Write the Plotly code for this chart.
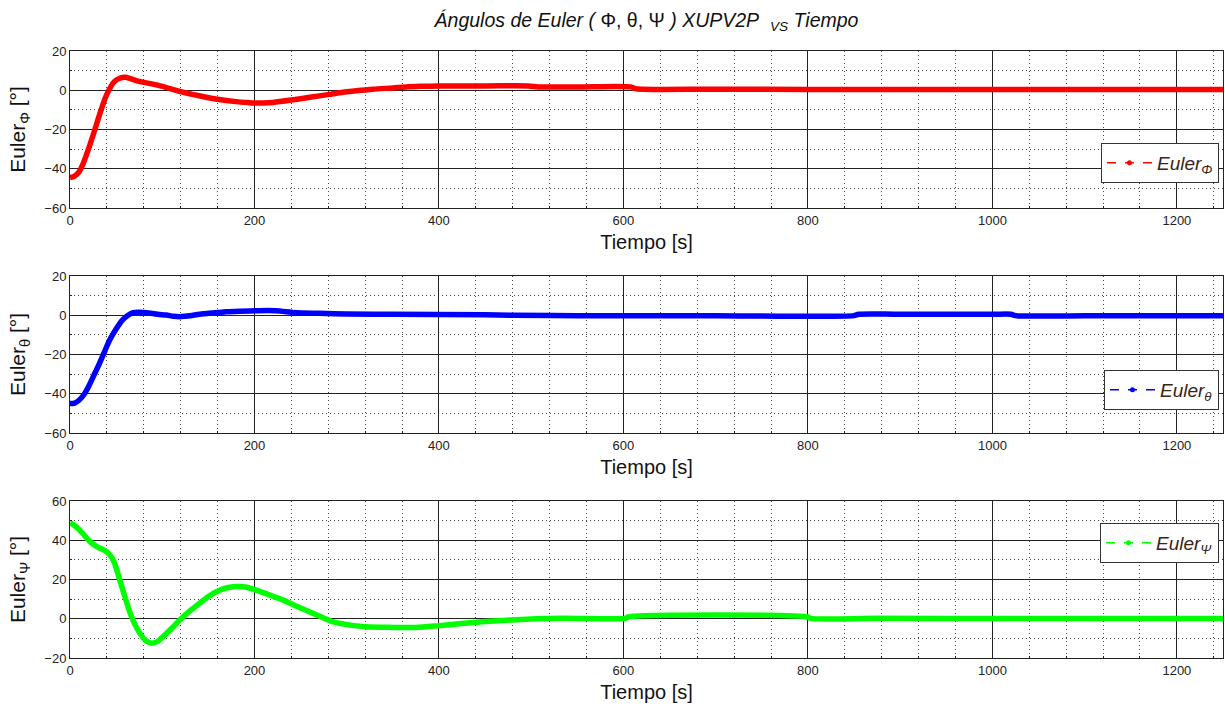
import plotly.graph_objects as go

# ---------------- data ----------------
t_phi = [0, 5, 10, 15, 20, 27, 33, 40, 48, 55, 60, 65, 75, 86, 100, 120, 140, 160, 180, 193,
         200, 210, 220, 240, 260, 281, 300, 328, 350, 364, 380, 400, 450, 497, 508, 550, 608,
         613, 620, 700, 800, 900, 1000, 1100, 1200, 1250]
phi = [-44.5, -43.8, -41.5, -36.5, -30, -20, -11, -2, 4.4, 6.3, 6.6, 6, 4.5, 3.5, 2, -0.7, -2.8,
       -4.6, -5.8, -6.3, -6.5, -6.5, -6.2, -5, -3.6, -2.1, -0.8, 0.5, 1.2, 1.7, 2, 2.2, 2.2,
       2.2, 1.7, 1.7, 1.7, 0.8, 0.5, 0.5, 0.4, 0.4, 0.4, 0.4, 0.4, 0.4]

t_theta = [0, 5, 10, 15, 20, 26, 32, 38, 43, 50, 57, 63, 68.5, 75, 83, 95, 104.5, 112, 120.7,
           130, 140.5, 155, 169, 185, 201.8, 223, 245, 270, 300, 350, 450, 480, 550, 700, 850,
           855, 900, 1000, 1020, 1025, 1100, 1250]
theta = [-45, -44.8, -43.2, -40.5, -36.4, -30.5, -24.5, -18, -12.6, -7, -2.4, 0, 1.3, 1.5, 1.3,
         0.5, 0.1, -0.5, -0.7, -0.3, 0.5, 1.2, 1.8, 2.1, 2.3, 2.3, 1.3, 1, 0.7, 0.5, 0.3, 0,
         -0.2, -0.2, -0.2, 0.5, 0.5, 0.5, 0.5, -0.2, -0.2, -0.2]

t_psi = [0, 5, 10, 21.6, 30, 39.6, 46.8, 54, 59.5, 66.7, 75.7, 82, 88.3, 95, 100.9, 110, 118.9,
         130, 140.5, 150, 158.6, 170, 180.2, 190, 201.8, 215, 230.6, 245, 259.5, 272, 284.7,
         300, 320.7, 350, 374.8, 400, 440, 479, 533, 602, 605, 800, 803, 876, 1000, 1250]
psi = [48.9, 47.5, 45.5, 39.3, 36.5, 34.2, 29.9, 19.7, 11.2, 1, -7.4, -11, -12.5, -11.5, -9.1,
       -5, -0.6, 4, 7.9, 11.3, 13.8, 15.8, 16.4, 16.2, 14.6, 12.3, 9.6, 6.5, 3.6, 1, -1.5, -3,
       -4.1, -4.4, -4.4, -3.5, -1.8, -0.6, 0.2, 0.2, 0.9, 0.9, 0.2, 0.2, 0.1, 0.1]

x_tick_step = 200
y_ranges = [[-60, 20], [-60, 20], [-20, 60]]
colors = ["#ff0000", "#0000ff", "#00ff00"]
sym = ["Φ", "θ", "Ψ"]
series = [(t_phi, phi), (t_theta, theta), (t_psi, psi)]

FONT = "Liberation Sans, Arial, sans-serif"
W, H = 1225, 712
ml, mr, mt, mb = 70, 2, 51, 54
ph = H - mt - mb
# pixel rows of each plot (top, bottom)
rows_px = [(51, 208), (276, 433), (501, 658)]
leg_center_px = [163, 390, 543]


def py2paper(p):
    return (H - mb - p) / ph


fig = go.Figure()
for i, ((tx, ty), col, s) in enumerate(zip(series, colors, sym)):
    xa = "x" if i == 0 else f"x{i+1}"
    ya = "y" if i == 0 else f"y{i+1}"
    lg = "legend" if i == 0 else f"legend{i+1}"
    fig.add_trace(go.Scatter(x=tx, y=ty, mode="lines", line=dict(color=col, width=5.5, shape="spline", smoothing=0.8),
                             xaxis=xa, yaxis=ya, showlegend=False, hoverinfo="x+y"))
    fig.add_trace(go.Scatter(x=[None], y=[None], mode="lines+markers",
                             line=dict(color=col, width=1.5, dash="dash"),
                             marker=dict(color=col, size=5, symbol="circle"),
                             name=f"<i>Euler<sub>{s}</sub></i>",
                             xaxis=xa, yaxis=ya, showlegend=True, legend=lg))

layout = dict(
    width=W, height=H,
    margin=dict(l=ml, r=mr, t=mt, b=mb),
    paper_bgcolor="white", plot_bgcolor="white",
    font=dict(family=FONT, color="#222222", size=12),
    title=dict(text="<i>Ángulos de Euler (</i> Φ, θ, Ψ <i>) XUPV2P</i>  <sub><i>VS</i></sub> <i>Tiempo</i>",
               x=0.5, xref="paper", y=1 - 20 / H, yref="container", yanchor="middle",
               font=dict(family=FONT, size=19.5, color="#111111")),
)

for i in range(3):
    top, bot = rows_px[i]
    sfx = "" if i == 0 else str(i + 1)
    layout["xaxis" + sfx] = dict(
        domain=[0, 1], anchor="y" + sfx, range=[0, 1250],
        tickmode="linear", tick0=0, dtick=x_tick_step,
        showline=True, linecolor="#222222", linewidth=1, mirror=True,
        showgrid=True, gridcolor="#222222", gridwidth=1,
        ticks="inside", ticklen=4, tickcolor="#222222",
        minor=dict(tickmode="linear", tick0=0, dtick=40, showgrid=True, gridcolor="#444444",
                   griddash="1px,3px", gridwidth=1,
                   ticks="inside", ticklen=2, tickcolor="#222222"),
        zeroline=False, automargin=False,
        tickfont=dict(family=FONT, size=13, color="#222222"),
        title=dict(text="Tiempo [s]", standoff=8, font=dict(family=FONT, size=20, color="#111111")),
    )
    layout["yaxis" + sfx] = dict(
        domain=[py2paper(bot), py2paper(top)], anchor="x" + sfx, range=y_ranges[i],
        tickmode="linear", dtick=20, tick0=0,
        showline=True, linecolor="#222222", linewidth=1, mirror=True,
        showgrid=True, gridcolor="#222222", gridwidth=1,
        ticks="inside", ticklen=4, tickcolor="#222222",
        minor=dict(tickmode="linear", dtick=10, tick0=0, showgrid=True, gridcolor="#444444",
                   griddash="1px,3px", gridwidth=1,
                   ticks="inside", ticklen=2, tickcolor="#222222"),
        zeroline=False, automargin=False,
        tickfont=dict(family=FONT, size=13, color="#222222"),
        title=dict(text=f"Euler<sub>{sym[i]}</sub> [°]", standoff=12,
                   font=dict(family=FONT, size=21, color="#111111")),
    )
    lg = "legend" if i == 0 else f"legend{i+1}"
    layout[lg] = dict(
        x=0.9965, xanchor="right", y=py2paper(leg_center_px[i]), yanchor="middle",
        bgcolor="white", bordercolor="#333333", borderwidth=1,
        font=dict(family=FONT, size=19, color="#3a2418"),
        itemwidth=45,
    )

fig.update_layout(**layout)
fig.write_html("out.html", config={"displayModeBar": False},
               post_script="document.body.style.margin='0px';document.body.style.overflow='hidden';")
